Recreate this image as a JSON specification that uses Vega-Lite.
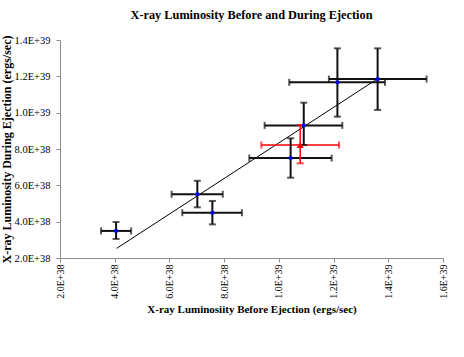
{
  "$schema": "https://vega.github.io/schema/vega-lite/v6.json",
  "width": 383,
  "height": 218,
  "autosize": "none",
  "padding": {"left": 60, "top": 40, "right": 21, "bottom": 99},
  "background": "white",
  "config": {"font": "Liberation Serif", "view": {"stroke": null}},
  "title": {"text": "X-ray Luminosity Before and During Ejection", "fontSize": 12.3, "fontWeight": "bold", "font": "Liberation Serif", "offset": 14, "anchor": "middle", "color": "black"},
  "datasets": {
    "obs": [
      {"grp": "b", "x": 4.05e38, "xlo": 3.50e38, "xhi": 4.60e38, "y": 3.49e38, "ylo": 3.05e38, "yhi": 3.98e38},
      {"grp": "b", "x": 7.02e38, "xlo": 6.08e38, "xhi": 7.95e38, "y": 5.51e38, "ylo": 4.79e38, "yhi": 6.25e38},
      {"grp": "b", "x": 7.57e38, "xlo": 6.47e38, "xhi": 8.65e38, "y": 4.49e38, "ylo": 3.85e38, "yhi": 5.14e38},
      {"grp": "b", "x": 10.43e38, "xlo": 8.92e38, "xhi": 11.93e38, "y": 7.50e38, "ylo": 6.42e38, "yhi": 8.59e38},
      {"grp": "b", "x": 10.91e38, "xlo": 9.48e38, "xhi": 12.32e38, "y": 9.30e38, "ylo": 8.22e38, "yhi": 10.55e38},
      {"grp": "b", "x": 12.14e38, "xlo": 10.38e38, "xhi": 13.88e38, "y": 11.67e38, "ylo": 9.78e38, "yhi": 13.54e38},
      {"grp": "b", "x": 13.61e38, "xlo": 11.83e38, "xhi": 15.40e38, "y": 11.85e38, "ylo": 10.15e38, "yhi": 13.54e38},
      {"grp": "r", "x": 10.78e38, "xlo": 9.36e38, "xhi": 12.20e38, "y": 8.22e38, "ylo": 7.21e38, "yhi": 9.32e38}
    ],
    "fit": [
      {"x": 4.07e38, "y": 2.53e38},
      {"x": 13.57e38, "y": 11.83e38}
    ]
  },
  "layer": [
    {
      "data": {"name": "fit"},
      "mark": {"type": "line", "color": "black", "strokeWidth": 1},
      "encoding": {
        "x": {"field": "x", "type": "quantitative",
          "scale": {"domain": [2e38, 1.6e39], "nice": false, "zero": false},
          "axis": {"title": "X-ray Luminosiity Before Ejection (ergs/sec)", "values": [2e38, 4e38, 6e38, 8e38, 1e39, 1.2e39, 1.4e39, 1.6e39],
            "labelExpr": "datum.value >= 1e39 ? format(datum.value/1e39, '.1f') + 'E+39' : format(datum.value/1e38, '.1f') + 'E+38'",
            "labelAngle": 270, "labelAlign": "right", "labelBaseline": "middle", "labelFontSize": 10, "labelColor": "black", "labelPadding": 2,
            "labelOverlap": false, "labelFlush": false,
            "titleFontSize": 11, "titleFontWeight": "bold", "titleColor": "black", "titlePadding": 5,
            "grid": false, "domainColor": "#8c8c8c", "tickColor": "#8c8c8c", "tickSize": 4, "labelFont": "Liberation Serif", "titleFont": "Liberation Serif"}},
        "y": {"field": "y", "type": "quantitative",
          "scale": {"domain": [2e38, 1.4e39], "nice": false, "zero": false},
          "axis": {"title": "X-ray Luminosity During Ejection (ergs/sec)", "values": [2e38, 4e38, 6e38, 8e38, 1e39, 1.2e39, 1.4e39],
            "labelExpr": "datum.value >= 1e39 ? format(datum.value/1e39, '.1f') + 'E+39' : format(datum.value/1e38, '.1f') + 'E+38'",
            "labelFontSize": 10.5, "labelColor": "black", "labelPadding": 6,
            "labelOverlap": false, "labelFlush": false,
            "titleFontSize": 12, "titleFontWeight": "bold", "titleColor": "black", "titleX": -47,
            "grid": false, "domainColor": "#8c8c8c", "tickColor": "#8c8c8c", "tickSize": 4, "labelFont": "Liberation Serif", "titleFont": "Liberation Serif"}}
      }
    },
    {
      "data": {"name": "obs"},
      "mark": {"type": "rule"},
      "encoding": {
        "x": {"field": "xlo", "type": "quantitative", "axis": {"values": [2e38, 4e38, 6e38, 8e38, 1e39, 1.2e39, 1.4e39, 1.6e39]}},
        "x2": {"field": "xhi"},
        "y": {"field": "y", "type": "quantitative", "axis": {"values": [2e38, 4e38, 6e38, 8e38, 1e39, 1.2e39, 1.4e39]}},
        "color": {"field": "grp", "type": "nominal", "scale": {"domain": ["b", "r"], "range": ["#111111", "#ff0000"]}, "legend": null},
        "strokeWidth": {"field": "grp", "type": "nominal", "scale": {"domain": ["b", "r"], "range": [2, 1.5]}, "legend": null}
      }
    },
    {
      "data": {"name": "obs"},
      "mark": {"type": "rule"},
      "encoding": {
        "x": {"field": "x", "type": "quantitative", "axis": {"values": [2e38, 4e38, 6e38, 8e38, 1e39, 1.2e39, 1.4e39, 1.6e39]}},
        "y": {"field": "ylo", "type": "quantitative", "axis": {"values": [2e38, 4e38, 6e38, 8e38, 1e39, 1.2e39, 1.4e39]}},
        "y2": {"field": "yhi"},
        "color": {"field": "grp", "type": "nominal", "legend": null},
        "strokeWidth": {"field": "grp", "type": "nominal", "legend": null}
      }
    },
    {
      "data": {"name": "obs"},
      "mark": {"type": "tick", "orient": "vertical", "size": 7, "thickness": 2},
      "encoding": {
        "x": {"field": "xlo", "type": "quantitative", "axis": {"values": [2e38, 4e38, 6e38, 8e38, 1e39, 1.2e39, 1.4e39, 1.6e39]}},
        "y": {"field": "y", "type": "quantitative", "axis": {"values": [2e38, 4e38, 6e38, 8e38, 1e39, 1.2e39, 1.4e39]}},
        "color": {"field": "grp", "type": "nominal", "legend": null}
      }
    },
    {
      "data": {"name": "obs"},
      "mark": {"type": "tick", "orient": "vertical", "size": 7, "thickness": 2},
      "encoding": {
        "x": {"field": "xhi", "type": "quantitative", "axis": {"values": [2e38, 4e38, 6e38, 8e38, 1e39, 1.2e39, 1.4e39, 1.6e39]}},
        "y": {"field": "y", "type": "quantitative", "axis": {"values": [2e38, 4e38, 6e38, 8e38, 1e39, 1.2e39, 1.4e39]}},
        "color": {"field": "grp", "type": "nominal", "legend": null}
      }
    },
    {
      "data": {"name": "obs"},
      "mark": {"type": "tick", "orient": "horizontal", "size": 7, "thickness": 2},
      "encoding": {
        "x": {"field": "x", "type": "quantitative", "axis": {"values": [2e38, 4e38, 6e38, 8e38, 1e39, 1.2e39, 1.4e39, 1.6e39]}},
        "y": {"field": "ylo", "type": "quantitative", "axis": {"values": [2e38, 4e38, 6e38, 8e38, 1e39, 1.2e39, 1.4e39]}},
        "color": {"field": "grp", "type": "nominal", "legend": null}
      }
    },
    {
      "data": {"name": "obs"},
      "mark": {"type": "tick", "orient": "horizontal", "size": 7, "thickness": 2},
      "encoding": {
        "x": {"field": "x", "type": "quantitative", "axis": {"values": [2e38, 4e38, 6e38, 8e38, 1e39, 1.2e39, 1.4e39, 1.6e39]}},
        "y": {"field": "yhi", "type": "quantitative", "axis": {"values": [2e38, 4e38, 6e38, 8e38, 1e39, 1.2e39, 1.4e39]}},
        "color": {"field": "grp", "type": "nominal", "legend": null}
      }
    },
    {
      "data": {"name": "obs"},
      "transform": [{"filter": "datum.grp == 'b'"}],
      "mark": {"type": "point", "shape": "square", "filled": true, "size": 12, "color": "#0000ff", "opacity": 1},
      "encoding": {
        "x": {"field": "x", "type": "quantitative", "axis": {"values": [2e38, 4e38, 6e38, 8e38, 1e39, 1.2e39, 1.4e39, 1.6e39]}},
        "y": {"field": "y", "type": "quantitative", "axis": {"values": [2e38, 4e38, 6e38, 8e38, 1e39, 1.2e39, 1.4e39]}}
      }
    },
    {
      "data": {"name": "obs"},
      "transform": [{"filter": "datum.grp == 'r'"}],
      "mark": {"type": "point", "shape": "triangle-up", "filled": true, "size": 50, "color": "#ff0000", "opacity": 1},
      "encoding": {
        "x": {"field": "x", "type": "quantitative", "axis": {"values": [2e38, 4e38, 6e38, 8e38, 1e39, 1.2e39, 1.4e39, 1.6e39]}},
        "y": {"field": "y", "type": "quantitative", "axis": {"values": [2e38, 4e38, 6e38, 8e38, 1e39, 1.2e39, 1.4e39]}}
      }
    }
  ]
}
